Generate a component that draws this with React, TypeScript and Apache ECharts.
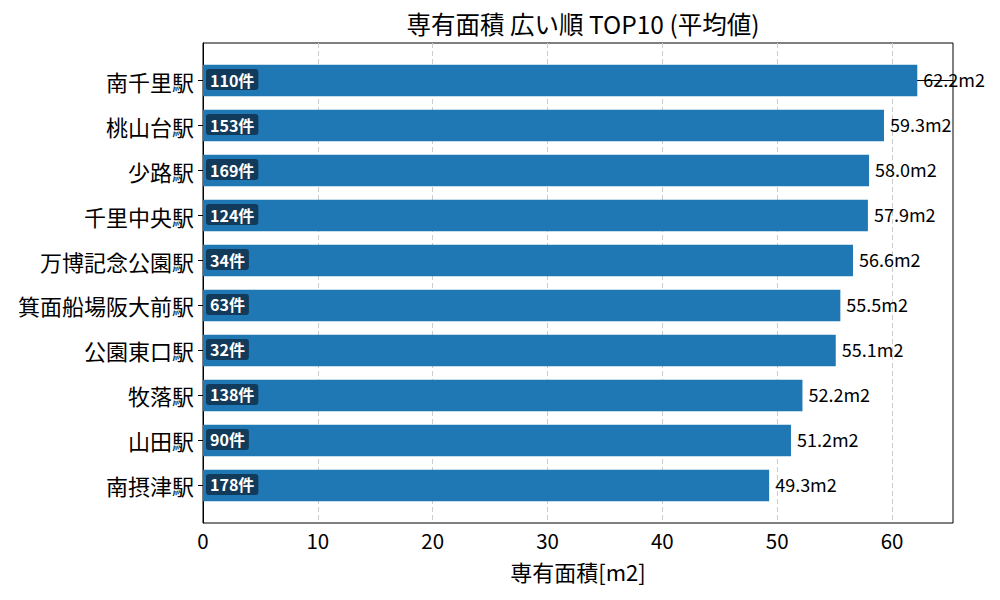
import { useEffect, useRef } from "react";
import * as echarts from "echarts";

const stations = [
  "南千里駅",
  "桃山台駅",
  "少路駅",
  "千里中央駅",
  "万博記念公園駅",
  "箕面船場阪大前駅",
  "公園東口駅",
  "牧落駅",
  "山田駅",
  "南摂津駅",
];
const areas = [62.2, 59.3, 58.0, 57.9, 56.6, 55.5, 55.1, 52.2, 51.2, 49.3];
const counts = [110, 153, 169, 124, 34, 63, 32, 138, 90, 178];
const xTicks = [0, 10, 20, 30, 40, 50, 60];

const FONT = "'Noto Sans CJK JP', 'Noto Sans', sans-serif";

const App = () => {
  const chartRef = useRef(null);

  useEffect(() => {
    document.body.style.margin = "0";
    const chart = echarts.init(chartRef.current, null, { renderer: "svg" });

    const option: any = {
      animation: false,
      textStyle: { fontFamily: FONT },
      title: {
        text: "専有面積 広い順 TOP10 (平均値)",
        left: 578,
        textAlign: "center",
        top: 6,
        textStyle: { fontFamily: FONT, fontSize: 24.5, fontWeight: "normal", color: "#000" },
      },
      grid: {
        left: 203,
        right: 47,
        top: 43,
        bottom: 77,
        show: true,
        borderColor: "#000",
        borderWidth: 1,
      },
      xAxis: {
        type: "value",
        min: 0,
        max: 65.31,
        interval: 10,
        name: "専有面積[m2]",
        nameLocation: "middle",
        nameGap: 37,
        nameTextStyle: { fontFamily: FONT, fontSize: 22, color: "#000" },
        axisLine: { show: true, lineStyle: { color: "#000" } },
        axisTick: { show: true, customValues: xTicks, length: 5, lineStyle: { color: "#000" } },
        axisLabel: {
          customValues: xTicks,
          fontFamily: FONT,
          fontSize: 20.5,
          color: "#000",
          margin: 7,
        },
        splitLine: { show: true, lineStyle: { color: "#cccccc", type: [5, 3] } },
      },
      yAxis: {
        type: "value",
        inverse: true,
        min: -0.835,
        max: 9.835,
        axisLine: { show: true, lineStyle: { color: "#000" } },
        axisTick: {
          show: true,
          customValues: stations.map((_, i) => i),
          length: 5,
          lineStyle: { color: "#000" },
        },
        axisLabel: {
          customValues: stations.map((_, i) => i),
          formatter: (v) => stations[Math.round(v)],
          fontFamily: FONT,
          fontSize: 22,
          color: "#000",
          margin: 9,
          padding: [0, 0, 3, 0],
        },
        splitLine: { show: false },
      },
      series: [
        {
          type: "custom",
          clip: false,
          data: areas.map((a, i) => [a, i, counts[i]]),
          encode: { x: 0, y: 1 },
          renderItem: (params, api) => {
            const val = api.value(0);
            const idx = api.value(1);
            const cnt = api.value(2);
            const start = api.coord([0, idx]);
            const end = api.coord([val, idx]);
            const h = api.size([0, 0.7])[1];
            return {
              type: "group",
              children: [
                {
                  type: "rect",
                  shape: { x: start[0], y: start[1] - h / 2, width: end[0] - start[0], height: h },
                  style: { fill: "#1f77b4" },
                },
                {
                  type: "text",
                  x: end[0] + 6,
                  y: end[1] - 1.5,
                  style: {
                    text: val.toFixed(1) + "m2",
                    fontFamily: FONT,
                    fontSize: 18,
                    fill: "#000",
                    verticalAlign: "middle",
                    align: "left",
                  },
                },
                {
                  type: "text",
                  x: start[0] + 3,
                  y: start[1] - 1,
                  style: {
                    text: cnt + "件",
                    fontFamily: FONT,
                    fontSize: 16,
                    fontWeight: "bold",
                    fill: "#fff",
                    verticalAlign: "middle",
                    align: "left",
                    backgroundColor: "#123a5a",
                    borderRadius: 3,
                    padding: [3, 4, 2, 4],
                  },
                },
              ],
            };
          },
        },
      ],
    };

    chart.setOption(option);

    return () => {
      chart.dispose();
    };
  }, []);

  return <div ref={chartRef} style={{ width: "1000px", height: "600px" }} />;
};

export default App;
